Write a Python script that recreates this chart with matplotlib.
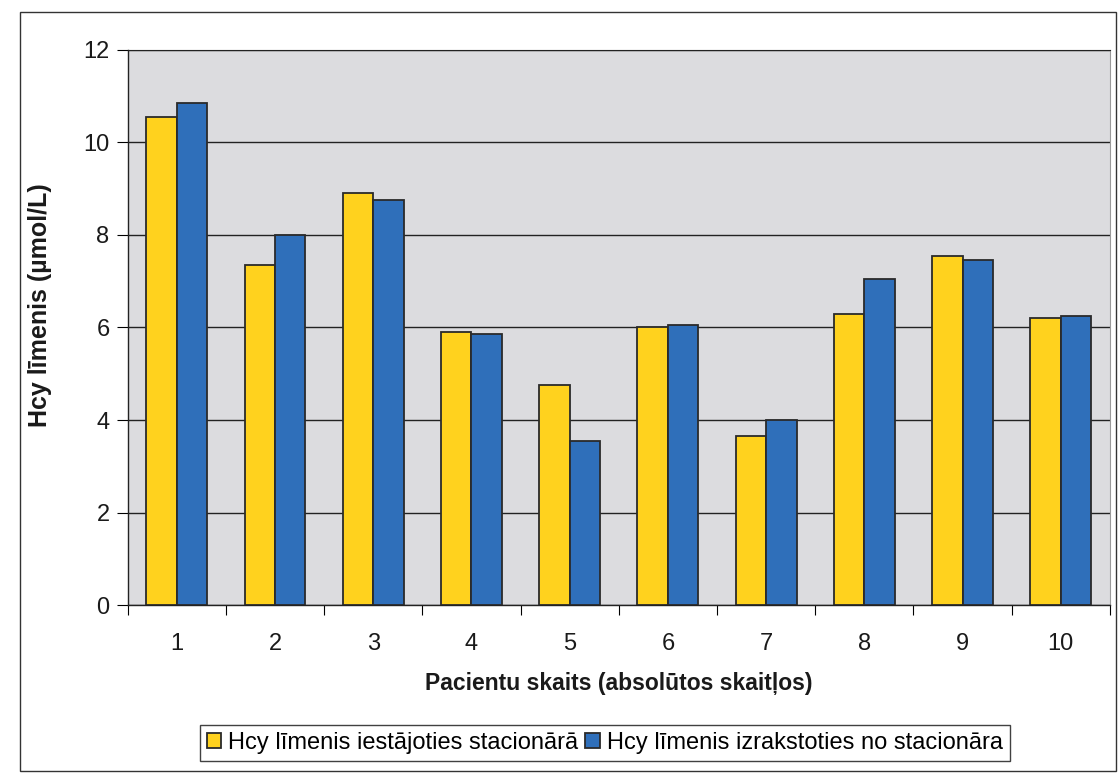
import matplotlib.pyplot as plt
from matplotlib.patches import Rectangle
import numpy as np

# Hcy levels per patient (umol/L)
patients = ["1", "2", "3", "4", "5", "6", "7", "8", "9", "10"]
hcy_admit = [10.55, 7.35, 8.9, 5.9, 4.75, 6.0, 3.65, 6.3, 7.55, 6.2]
hcy_discharge = [10.85, 8.0, 8.75, 5.85, 3.55, 6.05, 4.0, 7.05, 7.45, 6.25]

lbl_admit = "Hcy līmenis iestājoties stacionārā"
lbl_discharge = "Hcy līmenis izrakstoties no stacionāra"

plt.rcParams['font.family'] = ['Liberation Sans', 'DejaVu Sans']

fig = plt.figure(figsize=(11.2, 7.76), dpi=100)
ax = fig.add_axes([0.114, 0.220, 0.877, 0.716])
ax.set_facecolor("#dcdcdf")

x = np.arange(1, len(patients) + 1)
w = 0.31
ax.bar(x - w / 2, hcy_admit, w, color="#ffd21e", edgecolor="#2a2a2a",
       linewidth=1.3, label=lbl_admit, zorder=3)
ax.bar(x + w / 2, hcy_discharge, w, color="#2f6fba", edgecolor="#2a2a2a",
       linewidth=1.3, label=lbl_discharge, zorder=3)

ax.set_xlim(0.5, len(patients) + 0.5)
ax.set_ylim(0, 12)
ax.set_yticks(range(0, 13, 2))
ax.yaxis.grid(True, color="#222222", linewidth=1.0, zorder=1)
ax.set_axisbelow(True)

ax.set_xticks(x)
ax.set_xticklabels(patients)
ax.set_xticks(np.arange(0.5, len(patients) + 1, 1), minor=True)
ax.tick_params(axis="x", which="major", length=0, pad=20, labelsize=17,
               labelcolor="#1a1a1a")
ax.tick_params(axis="x", which="minor", length=7, direction="out", width=0.8)
ax.tick_params(axis="y", length=8, width=0.8, pad=5, labelsize=17,
               labelcolor="#1a1a1a")

for s in ["left", "bottom"]:
    ax.spines[s].set_color("#222222")
    ax.spines[s].set_linewidth(1.0)
ax.spines["top"].set_color("#222222")
ax.spines["right"].set_color("#999999")
ax.spines["right"].set_linestyle((0, (2, 1)))

ax.set_ylabel("Hcy līmenis (µmol/L)", fontsize=18, fontweight="bold",
              color="#1a1a1a")
ax.yaxis.set_label_coords(-0.077, 0.54)
ax.set_xlabel("Pacientu skaits (absolūtos skaitļos)", fontsize=16.5,
              fontweight="bold", labelpad=12, color="#1a1a1a")

leg = fig.legend(loc="center", bbox_to_anchor=(0.54, 0.043), ncol=2,
                 fontsize=17, frameon=True, fancybox=False, edgecolor="#111111",
                 handlelength=0.6, handleheight=0.6, handletextpad=0.3,
                 columnspacing=0.3, borderpad=0.3, borderaxespad=0)
leg.get_frame().set_linewidth(1.0)

# outer chart border
fig.patches.append(Rectangle((0.018, 0.006), 0.978, 0.978, transform=fig.transFigure,
                             fill=False, edgecolor="#333333", linewidth=1.0))

fig.savefig("out.png", dpi=100, facecolor="white")
